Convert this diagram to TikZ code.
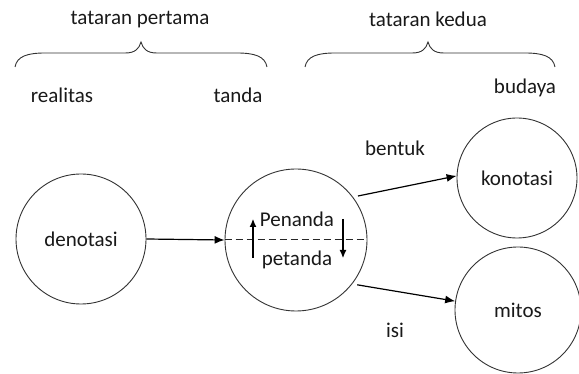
\documentclass[tikz,border=0pt]{standalone}
\usepackage{fontspec}
\setmainfont{Carlito}
\usetikzlibrary{arrows.meta,calc}
\begin{document}
\begin{tikzpicture}[x=1pt,y=-1pt,
  every node/.style={font=\fontsize{21}{25}\selectfont, text=black!90},
  ring/.style={circle, draw=black!80, line width=0.9pt, inner sep=0pt},
  lbl/.style={inner sep=0pt, anchor=center},
  arr/.style={draw=black, line width=1.2pt, -{Latex[length=10pt,width=8pt]}},
  smallarr/.style={draw=black, line width=1.1pt, -{Latex[length=8pt,width=7pt]}},
  brc/.style={draw=black!80, line width=0.9pt}
]
\useasboundingbox (0,0) rectangle (579,374);
\fill[white] (0,0) rectangle (579,374);

% top labels
\node[lbl] (t1) at (140,20) {tataran pertama};
\node[lbl] (t2) at (428,19) {tataran kedua};

% braces
\draw[brc] (15,67) .. controls (17,56) and (28,53) .. (45,53) -- (125,53)
  .. controls (135,53) and (139,49) .. (141,42)
  .. controls (143,49) and (147,53) .. (157,53) -- (237,53)
  .. controls (254,53) and (265,56) .. (267,67);
\draw[brc] (305,67) .. controls (307,56) and (318,53) .. (335,53) -- (412,53)
  .. controls (422,53) and (426,49) .. (428,42)
  .. controls (430,49) and (434,53) .. (444,53) -- (525,53)
  .. controls (542,53) and (553,56) .. (555,67);

\node[lbl] (real) at (62,95) {realitas};
\node[lbl] (tanda) at (238,95) {tanda};
\node[lbl] (bud) at (525,88) {budaya};

% circles
\node[ring, minimum size=130pt] (den) at (81,239) {denotasi};
\node[ring, minimum size=142pt] (mid) at (296,240) {};
\node[ring, minimum size=120pt] (kon) at (517,178) {konotasi};
\node[ring, minimum size=126pt] (mit) at (518,310) {mitos};

% middle circle content
\draw[draw=black!85, line width=1pt, dash pattern=on 7pt off 4pt] (mid.west) -- (mid.east);
\node[lbl] (pen) at (297,219) {Penanda};
\node[lbl] (pet) at (297,260) {petanda};
\coordinate (u1) at ($(mid.center)+(-43,18)$);
\coordinate (u2) at ($(mid.center)+(-43,-21)$);
\coordinate (d1) at ($(mid.center)+(47,-21)$);
\coordinate (d2) at ($(mid.center)+(47,18)$);
\draw[smallarr] (u1) -- (u2);
\draw[smallarr] (d1) -- (d2);

% connectors
\draw[arr] (den.east) -- (mid.west);
\draw[arr, shorten <=5pt] (mid.37) -- (kon.178);
\draw[arr, shorten <=5pt] (mid.-38) -- (mit.172);

\node[lbl] (bent) at (395,148) {bentuk};
\node[lbl] (isi) at (395,330) {isi};
\end{tikzpicture}
\end{document}
